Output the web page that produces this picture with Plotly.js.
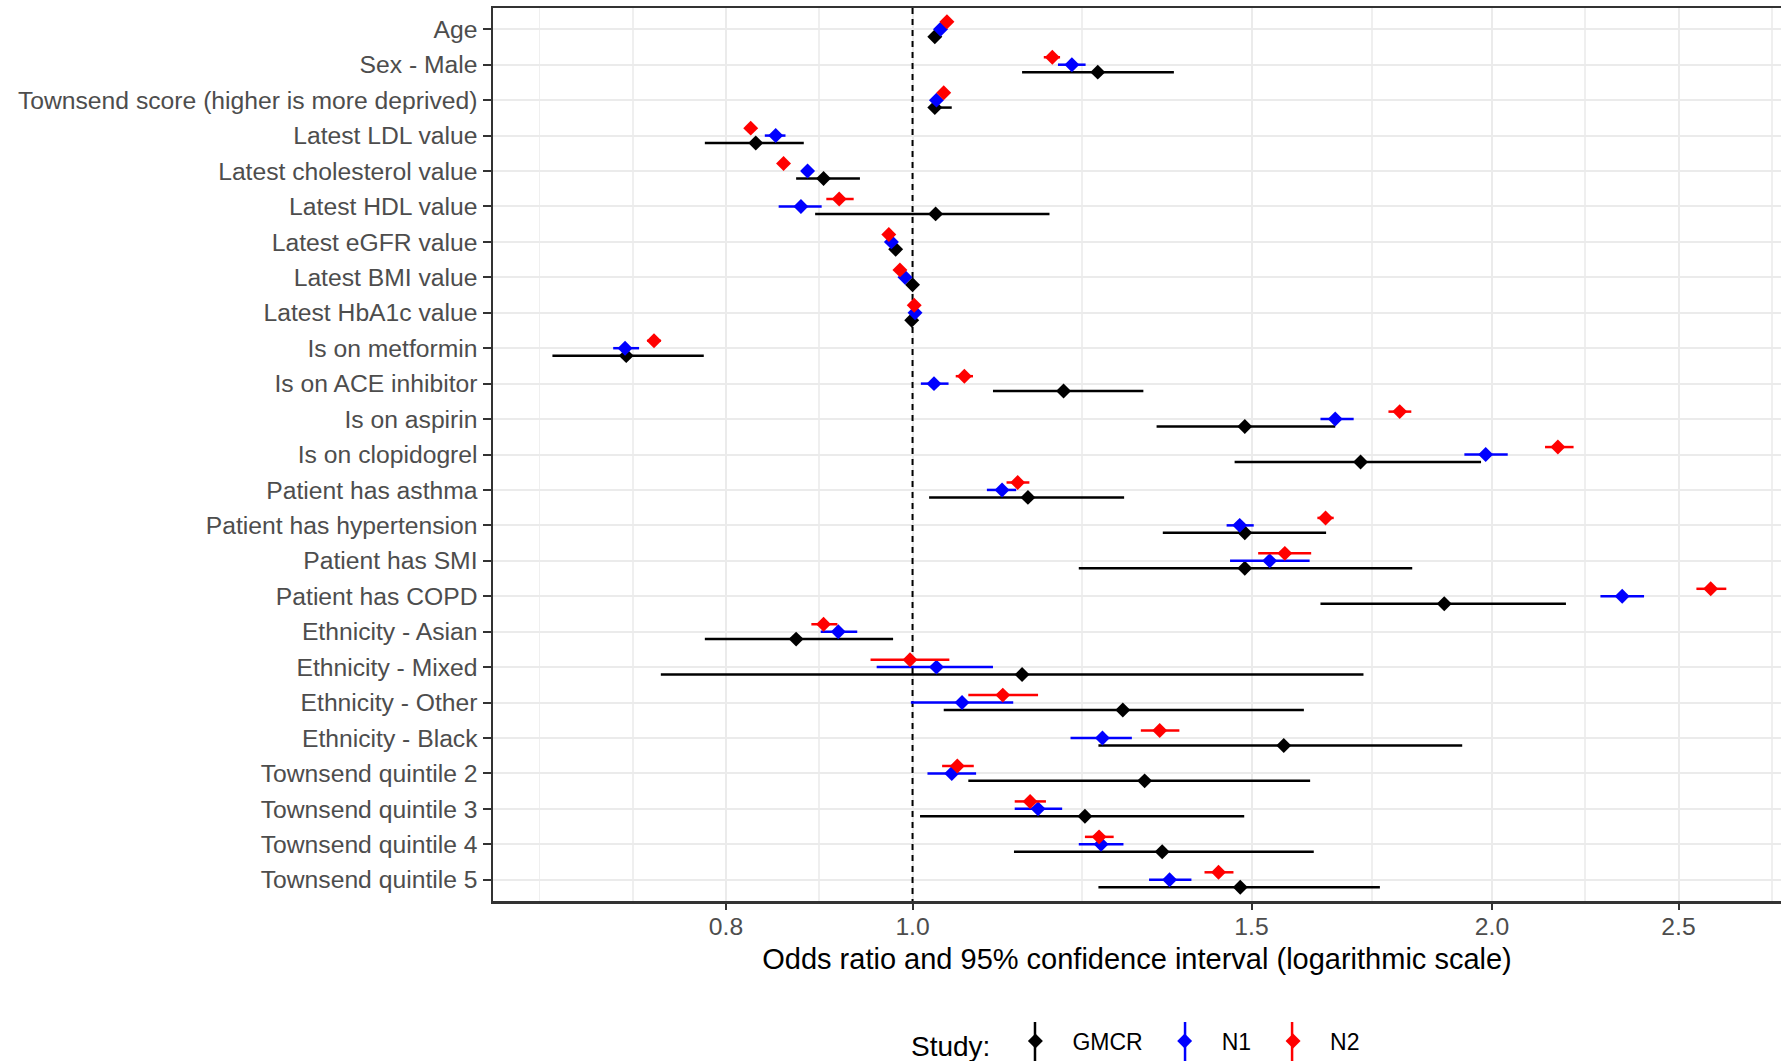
<!DOCTYPE html>
<html>
<head>
<meta charset="utf-8">
<script src="https://cdn.plot.ly/plotly-3.0.1.min.js"></script>
<style>
  html, body { margin: 0; padding: 0; background: #ffffff; }
  #chart { width: 1781px; height: 1061px; }
</style>
</head>
<body>
<div id="chart"></div>
<script>
// ---- data (odds ratio, lower 95% CI, upper 95% CI) ----
const categories = [
  "Age", "Sex - Male", "Townsend score (higher is more deprived)",
  "Latest LDL value", "Latest cholesterol value", "Latest HDL value",
  "Latest eGFR value", "Latest BMI value", "Latest HbA1c value",
  "Is on metformin", "Is on ACE inhibitor", "Is on aspirin", "Is on clopidogrel",
  "Patient has asthma", "Patient has hypertension", "Patient has SMI", "Patient has COPD",
  "Ethnicity - Asian", "Ethnicity - Mixed", "Ethnicity - Other", "Ethnicity - Black",
  "Townsend quintile 2", "Townsend quintile 3", "Townsend quintile 4", "Townsend quintile 5"
];
const studies = ["GMCR", "N1", "N2"];

const gmcrOR = [1.027, 1.248, 1.027, 0.829, 0.899, 1.028, 0.980, 1.000, 0.999, 0.710, 1.198, 1.488, 1.709, 1.148, 1.488, 1.488, 1.889, 0.870, 1.140, 1.286, 1.559, 1.320, 1.229, 1.348, 1.480];
const gmcrLo = [1.024, 1.140, 1.021, 0.780, 0.870, 0.890, 0.978, 0.997, 0.997, 0.650, 1.101, 1.339, 1.470, 1.020, 1.349, 1.220, 1.629, 0.780, 0.740, 1.038, 1.249, 1.069, 1.009, 1.129, 1.249];
const gmcrHi = [1.030, 1.367, 1.048, 0.878, 0.939, 1.178, 0.982, 1.003, 1.001, 0.779, 1.318, 1.658, 1.974, 1.288, 1.640, 1.818, 2.185, 0.977, 1.715, 1.597, 1.930, 1.609, 1.487, 1.616, 1.749];

const n1OR = [1.034, 1.210, 1.029, 0.849, 0.882, 0.875, 0.975, 0.991, 1.003, 0.709, 1.026, 1.658, 1.985, 1.113, 1.479, 1.533, 2.337, 0.915, 1.029, 1.061, 1.255, 1.048, 1.162, 1.253, 1.360];
const n1Lo = [1.032, 1.190, 1.026, 0.838, 0.876, 0.852, 0.973, 0.989, 1.001, 0.699, 1.010, 1.629, 1.935, 1.093, 1.456, 1.462, 2.277, 0.896, 0.958, 0.998, 1.208, 1.018, 1.130, 1.220, 1.327];
const n1Hi = [1.036, 1.230, 1.032, 0.859, 0.888, 0.897, 0.977, 0.993, 1.005, 0.721, 1.044, 1.695, 2.038, 1.132, 1.504, 1.608, 2.399, 0.936, 1.101, 1.128, 1.300, 1.079, 1.196, 1.287, 1.396];

const n2OR = [1.042, 1.182, 1.038, 0.824, 0.857, 0.916, 0.972, 0.985, 1.002, 0.734, 1.064, 1.791, 2.164, 1.134, 1.639, 1.561, 2.598, 0.899, 0.997, 1.114, 1.344, 1.055, 1.151, 1.250, 1.442];
const n2Lo = [1.040, 1.170, 1.035, 0.819, 0.852, 0.902, 0.970, 0.983, 0.998, 0.728, 1.053, 1.767, 2.131, 1.119, 1.623, 1.512, 2.554, 0.886, 0.951, 1.069, 1.314, 1.036, 1.130, 1.229, 1.418];
const n2Hi = [1.044, 1.193, 1.041, 0.829, 0.862, 0.932, 0.974, 0.987, 1.006, 0.740, 1.075, 1.816, 2.205, 1.150, 1.655, 1.611, 2.647, 0.914, 1.045, 1.162, 1.376, 1.076, 1.173, 1.272, 1.468];

const xTickVals = [0.8, 1.0, 1.5, 2.0, 2.5];
const xTickText = ["0.8", "1.0", "1.5", "2.0", "2.5"];
const colors = ["#000000", "#0000FF", "#FF0000"];

// ---- build traces ----
const seriesOR = [gmcrOR, n1OR, n2OR];
const seriesLo = [gmcrLo, n1Lo, n2Lo];
const seriesHi = [gmcrHi, n1Hi, n2Hi];
const dodge = [0.21, 0, -0.21];   // GMCR below, N2 above the category line
const catIndex = categories.map((c, i) => i);

const traces = studies.map((name, s) => ({
  type: "scatter",
  mode: "markers",
  name: name,
  x: seriesOR[s],
  y: catIndex.map(i => i + dodge[s]),
  marker: { symbol: "diamond", size: 11.5, color: colors[s], line: { width: 0 } },
  error_x: {
    type: "data",
    symmetric: false,
    array: seriesOR[s].map((v, i) => seriesHi[s][i] - v),
    arrayminus: seriesOR[s].map((v, i) => v - seriesLo[s][i]),
    color: colors[s],
    thickness: 2.5,
    width: 0
  },
  hoverinfo: "x+name"
}));

const yMin = -0.6, yMax = categories.length - 0.4;

// reference line at OR = 1
traces.unshift({
  type: "scatter", mode: "lines", x: [1, 1], y: [yMin, yMax],
  line: { color: "#000000", width: 2, dash: "6px,5px" },
  showlegend: false, hoverinfo: "skip"
});

// ggplot-style minor grid on log scale (midpoints of major breaks in log space)
const logMaj = xTickVals.map(Math.log);
const bd = logMaj[1] - logMaj[0];
const ext = [logMaj[0] - bd].concat(logMaj, [logMaj[logMaj.length - 1] + bd]);
const minorVals = [];
for (let i = 0; i < ext.length - 1; i++) {
  minorVals.push(Math.exp(ext[i]));
  minorVals.push(Math.exp((ext[i] + ext[i + 1]) / 2));
}
minorVals.push(Math.exp(ext[ext.length - 1]));

// vertical line part of the legend keys (pointrange glyph)
const legendKeyX = [0.4208, 0.5373, 0.6204];
const keyShapes = legendKeyX.map((kx, s) => ({
  type: "line", xref: "paper", yref: "paper",
  x0: kx, x1: kx, y0: -0.1355, y1: -0.1814,
  line: { color: colors[s], width: 2.5 }, layer: "above"
}));

const layout = {
  width: 1781, height: 1061,
  paper_bgcolor: "#ffffff", plot_bgcolor: "#ffffff",
  margin: { l: 493, r: 0, t: 8, b: 160, pad: 0 },
  font: { family: "Liberation Sans, Arial, sans-serif", color: "#000000" },
  showlegend: true,
  shapes: keyShapes,
  xaxis: {
    type: "log",
    range: [Math.log10(0.6054), Math.log10(2.826)],
    autorange: false,
    tickmode: "array", tickvals: xTickVals, ticktext: xTickText,
    ticks: "outside", ticklen: 6, tickwidth: 2, tickcolor: "#333333",
    tickfont: { size: 24.7, color: "#4D4D4D" },
    ticklabelstandoff: -4,
    showgrid: true, gridcolor: "#EBEBEB", gridwidth: 2,
    minor: { tickmode: "array", tickvals: minorVals, showgrid: true, gridcolor: "#EFEFEF", gridwidth: 1.8, ticks: "" },
    showline: true, linecolor: "#333333", linewidth: 2.5, mirror: true,
    zeroline: false,
    automargin: false,
    title: { text: "Odds ratio and 95% confidence interval (logarithmic scale)", font: { size: 29, color: "#000000" }, standoff: 10 }
  },
  yaxis: {
    type: "linear",
    range: [yMax, yMin], autorange: false,
    tickmode: "array", tickvals: catIndex, ticktext: categories,
    ticks: "outside", ticklen: 8, tickwidth: 2, tickcolor: "#333333",
    tickfont: { size: 24.7, color: "#4D4D4D" },
    ticklabelstandoff: 0,
    showgrid: true, gridcolor: "#EBEBEB", gridwidth: 2,
    showline: true, linecolor: "#333333", linewidth: 2.5, mirror: false,
    zeroline: false,
    automargin: false
  },
  legend: {
    orientation: "h",
    x: 0.5, xanchor: "center",
    yref: "container",
    y: 0.017, yanchor: "middle",
    font: { size: 23, color: "#000000" },
    title: { text: "Study:", side: "left", font: { size: 28, color: "#000000" } },
    itemwidth: 64,
    bgcolor: "rgba(0,0,0,0)"
  }
};

Plotly.newPlot("chart", traces, layout, { displayModeBar: false, staticPlot: true });
</script>
</body>
</html>
